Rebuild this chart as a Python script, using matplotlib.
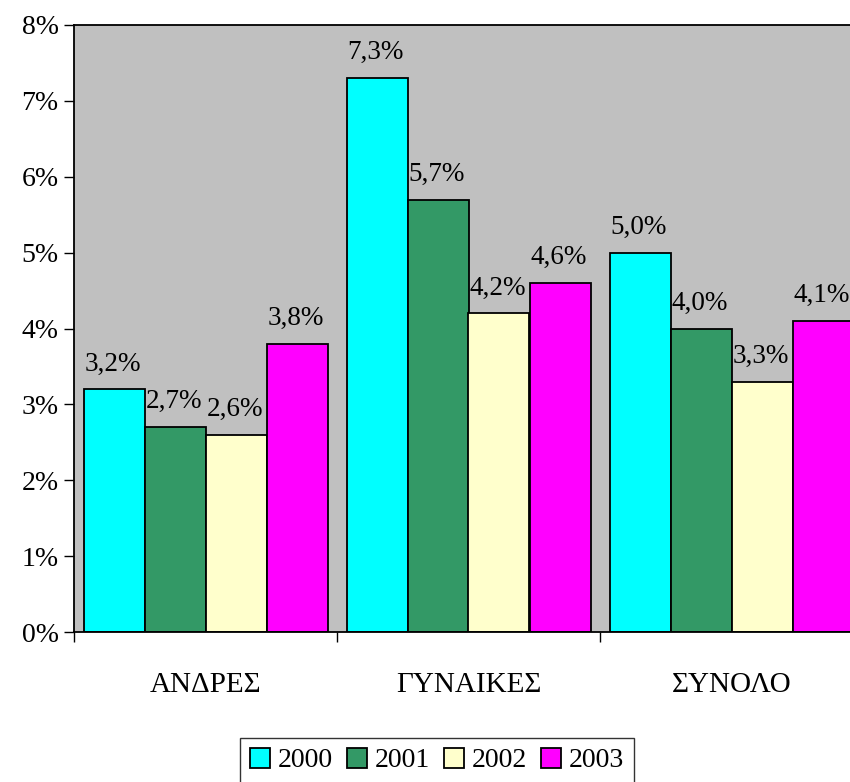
import matplotlib
matplotlib.use("Agg")
import matplotlib.pyplot as plt
import numpy as np

categories = ["ΑΝΔΡΕΣ", "ΓΥΝΑΙΚΕΣ", "ΣΥΝΟΛΟ"]
years = ["2000", "2001", "2002", "2003"]
values = {
    "2000": [3.2, 7.3, 5.0],
    "2001": [2.7, 5.7, 4.0],
    "2002": [2.6, 4.2, 3.3],
    "2003": [3.8, 4.6, 4.1],
}
colors = ["#00FFFF", "#339966", "#FFFFCC", "#FF00FF"]
yticks = [0, 1, 2, 3, 4, 5, 6, 7, 8]

plt.rcParams["font.family"] = ["Liberation Serif", "DejaVu Serif"]
fs = 20

fig = plt.figure(figsize=(8.5, 7.82), dpi=100)
W, H = 850, 782
ax = fig.add_axes([74 / W, (H - 632) / H, (863 - 74) / W, (632 - 25) / H])
ax.set_facecolor("#C0C0C0")

bar_w = 61 / 263
x = np.arange(len(categories))
handles = []
for i, yr in enumerate(years):
    pos = x + (i - 1.5) * bar_w
    b = ax.bar(pos, values[yr], width=bar_w, color=colors[i],
               edgecolor="black", linewidth=1.3, label=yr, zorder=2)
    handles.append(b)
    for px, v in zip(pos, values[yr]):
        ax.annotate(f"{v:.1f}%".replace(".", ","), (px, v),
                    xytext=(-1, 13.5), textcoords="offset points",
                    ha="center", va="baseline", fontsize=19.5)

ax.set_xlim(-0.5, 2.5)
ax.set_ylim(0, 8)
ax.set_yticks(yticks)
ax.set_yticklabels([f"{t}%" for t in yticks], fontsize=fs)
ax.set_xticks([-0.5, 0.5, 1.5, 2.5])
ax.set_xticklabels([])
ax.set_xticks(x, minor=True)
ax.set_xticklabels(categories, minor=True, fontsize=fs + 1)
ax.tick_params(axis="x", which="minor", length=0, pad=29)
ax.tick_params(axis="x", which="major", length=7, direction="out", width=1)
ax.tick_params(axis="y", length=7, direction="out", width=1, pad=4)
ax.spines["right"].set_visible(False)
for s in ["left", "bottom", "top"]:
    ax.spines[s].set_linewidth(1.3)

leg = fig.legend(handles=handles, labels=years, loc="upper left",
                 bbox_to_anchor=(240 / W, (H - 738) / H), ncol=4,
                 fontsize=fs, frameon=True, fancybox=False,
                 handlelength=0.72, handleheight=0.72, handletextpad=0.29,
                 columnspacing=0.5, borderpad=0.35, borderaxespad=0)
leg.get_frame().set_edgecolor("black")
leg.get_frame().set_linewidth(1.0)

fig.savefig("out.png", dpi=100)
